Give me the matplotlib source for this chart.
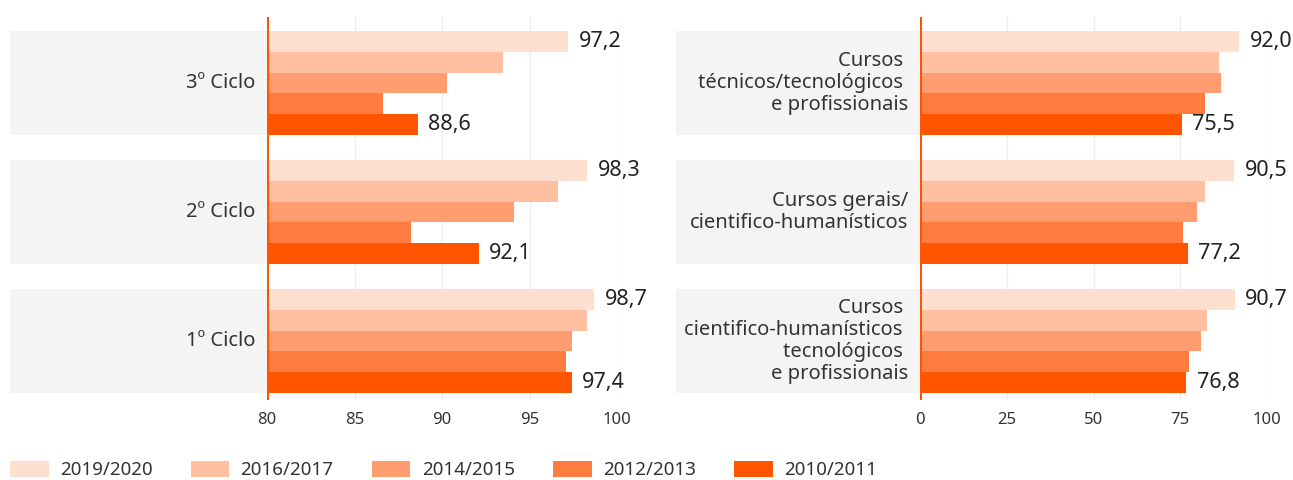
import matplotlib
matplotlib.use("Agg")
import matplotlib.pyplot as plt
from matplotlib.patches import Patch, Rectangle
from matplotlib.transforms import blended_transform_factory

plt.rcParams['font.family'] = ['Noto Sans', 'DejaVu Sans']

# data
years = ['2019/2020', '2016/2017', '2014/2015', '2012/2013', '2010/2011']
colors = ['#FFDFD0', '#FFBFA1', '#FF9D70', '#FF7C40', '#FF5500']

left_cats = ['3º Ciclo', '2º Ciclo', '1º Ciclo']
left_vals = [
    [97.2, 93.5, 90.3, 86.6, 88.6],
    [98.3, 96.6, 94.1, 88.2, 92.1],
    [98.7, 98.3, 97.4, 97.1, 97.4],
]

right_cats = ['Cursos \ntécnicos/tecnológicos \ne profissionais',
              'Cursos gerais/\ncientifico-humanísticos',
              'Cursos \ncientifico-humanísticos \ntecnológicos \ne profissionais']
right_vals = [
    [92.0, 86.3, 86.6, 82.0, 75.5],
    [90.5, 82.0, 79.7, 75.9, 77.2],
    [90.7, 82.8, 81.1, 77.4, 76.8],
]

W, H = 1293, 480
fig = plt.figure(figsize=(W / 100, H / 100), dpi=100)

def px_ax(x0, x1, y0, y1):
    return fig.add_axes([x0 / W, 1 - y1 / H, (x1 - x0) / W, (y1 - y0) / H])

orange = '#FF5500'
bar_h = 0.806 / 5


def draw_panel(ax, cats, vals, xlim, ticks, band_x0, band_x1):
    ax.set_xlim(*xlim)
    ax.set_ylim(2.457, -0.512)
    for s in ax.spines.values():
        s.set_visible(False)
    ax.set_xticks(ticks)
    ax.set_xticklabels([str(t) for t in ticks], fontsize=12, color='#333333')
    ax.tick_params(axis='x', length=0, pad=9)
    ax.set_yticks([])
    ax.grid(axis='x', color='#EEEEEE', linewidth=1)
    ax.set_axisbelow(True)
    trans = blended_transform_factory(fig.transFigure, ax.transData)
    for i, (cat, row) in enumerate(zip(cats, vals)):
        top = i - 0.403
        ax.add_patch(Rectangle((band_x0 / W, top), (band_x1 - band_x0) / W, 0.806,
                               transform=trans, facecolor='#F4F4F4',
                               edgecolor='none', clip_on=False, zorder=0))
        ax.text((band_x1 - 12) / W, i, cat, transform=trans, ha='right', va='center',
                multialignment='right', fontsize=14.5, color='#333333',
                linespacing=1.14)
        for j, v in enumerate(row):
            y = top + bar_h * (j + 0.5)
            ax.barh(y, v, height=bar_h, color=colors[j], zorder=2)
            if j in (0, 4):
                ax.annotate(f'{v:.1f}'.replace('.', ','), (v, y),
                            xytext=(7.5, 0), textcoords='offset points',
                            ha='left', va='center', fontsize=15.5, color='#222222')
    ax.axvline(xlim[0], color=orange, linewidth=2.2, zorder=3)


axl = px_ax(267, 617, 17, 400)
draw_panel(axl, left_cats, left_vals, (80, 100), [80, 85, 90, 95, 100], 10, 267)

axr = px_ax(920, 1267, 17, 400)
draw_panel(axr, right_cats, right_vals, (0, 100), [0, 25, 50, 75, 100], 676, 920)

handles = [Patch(facecolor=c, edgecolor='none') for c in colors]
fig.legend(handles, years, loc='center left', bbox_to_anchor=(-0.003, 1 - 470 / H),
           ncol=5, frameon=False, fontsize=13.5, handlelength=2.05, handleheight=0.95,
           handletextpad=0.6, columnspacing=2.05, labelcolor='#333333',
           borderaxespad=0.35)

fig.savefig('out.png', dpi=100)
